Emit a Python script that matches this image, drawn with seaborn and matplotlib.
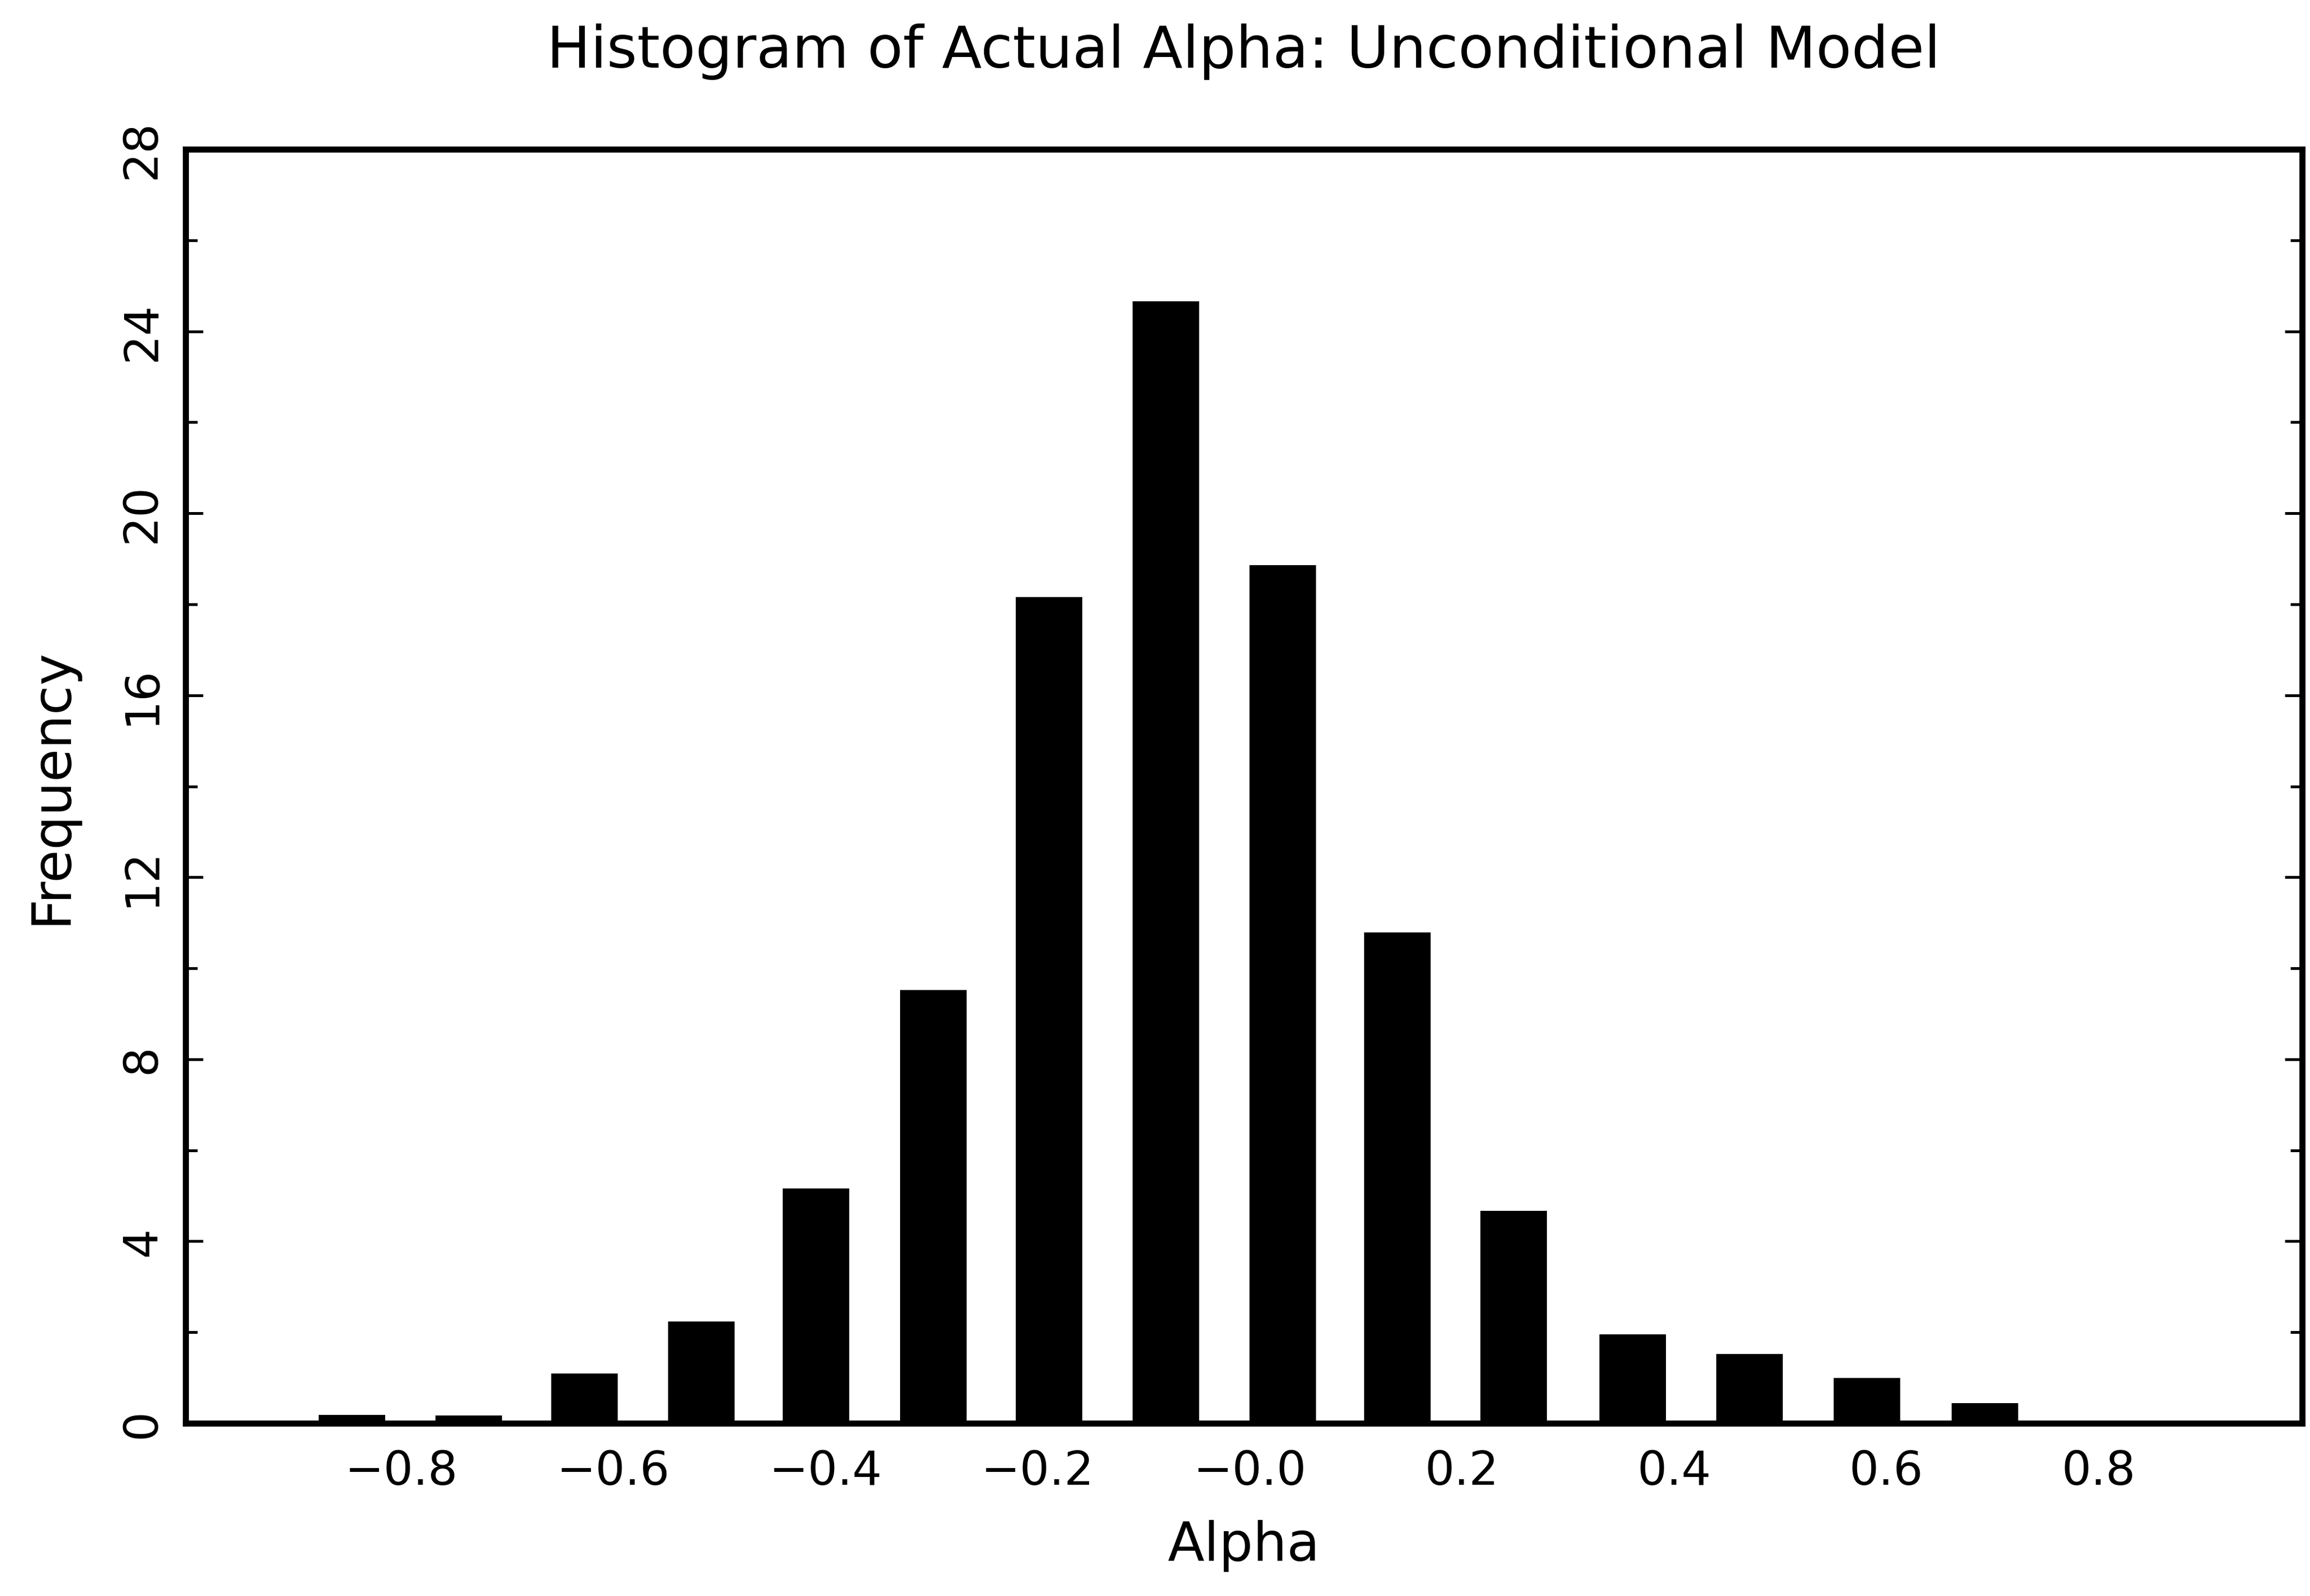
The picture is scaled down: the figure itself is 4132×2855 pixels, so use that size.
import numpy as np
import matplotlib
matplotlib.use("Agg")
import matplotlib.pyplot as plt
from matplotlib.ticker import MultipleLocator, FixedLocator, FixedFormatter
import seaborn as sns

# Histogram of actual alpha (unconditional model): bin centres and frequency (%)
bin_centers = [-0.846, -0.736, -0.627, -0.517, -0.409, -0.298, -0.189, -0.079,
               0.031, 0.139, 0.249, 0.361, 0.471, 0.582, 0.693]
frequency = [0.18, 0.17, 1.10, 2.24, 5.16, 9.52, 18.16, 24.66,
             18.86, 10.79, 4.67, 1.96, 1.53, 1.00, 0.44]

x_tick_values = [-0.8, -0.6, -0.4, -0.2, 0.0, 0.2, 0.4, 0.6, 0.8]
x_tick_labels = ["\u22120.8", "\u22120.6", "\u22120.4", "\u22120.2", "\u22120.0",
                 "0.2", "0.4", "0.6", "0.8"]
y_tick_values = [0, 4, 8, 12, 16, 20, 24, 28]

sns.set_style("ticks")
plt.rcParams["font.family"] = ["DejaVu Sans"]
plt.rcParams["axes.unicode_minus"] = True
for key in ["text.color", "axes.labelcolor", "xtick.color", "ytick.color",
            "axes.edgecolor"]:
    plt.rcParams[key] = "black"

DPI = 300
fig = plt.figure(figsize=(4132 / DPI, 2855 / DPI), dpi=DPI)
ax = fig.add_axes([0.0803, 0.1082, 0.9163, 0.7983])

bar_width = 0.0627
width_frac = bar_width / np.diff(bin_centers).min()
sns.barplot(x=bin_centers, y=frequency, native_scale=True, width=width_frac,
            color="black", saturation=1, errorbar=None, linewidth=0, ax=ax)

ax.set_xlim(-1.003, 0.992)
ax.set_ylim(0, 28)

ax.xaxis.set_major_locator(FixedLocator(x_tick_values))
ax.xaxis.set_major_formatter(FixedFormatter(x_tick_labels))
ax.xaxis.set_minor_locator(FixedLocator([]))
ax.yaxis.set_major_locator(FixedLocator(y_tick_values))
ax.yaxis.set_minor_locator(MultipleLocator(2))

ax.tick_params(axis="x", which="both", length=0, pad=11, labelsize=20,
               colors="black")
ax.tick_params(axis="y", which="major", direction="in", length=7.5, width=1.2,
               left=True, right=True, pad=9, labelsize=20, labelrotation=90,
               colors="black")
ax.tick_params(axis="y", which="minor", direction="in", length=5, width=1.2,
               left=True, right=True, colors="black")
for lbl in ax.get_yticklabels():
    lbl.set_va("center")
    lbl.set_ha("right")

for side in ["left", "right", "top", "bottom"]:
    ax.spines[side].set_visible(True)
    ax.spines[side].set_linewidth(2.6)
    ax.spines[side].set_color("black")

ax.set_xlabel("Alpha", fontsize=23, labelpad=11, color="black")
ax.set_ylabel("Frequency", fontsize=23, labelpad=18, color="black")
ax.set_title("Histogram of Actual Alpha: Unconditional Model", fontsize=25,
             pad=35, color="black")

fig.savefig("out.png", dpi=DPI, facecolor="white")
